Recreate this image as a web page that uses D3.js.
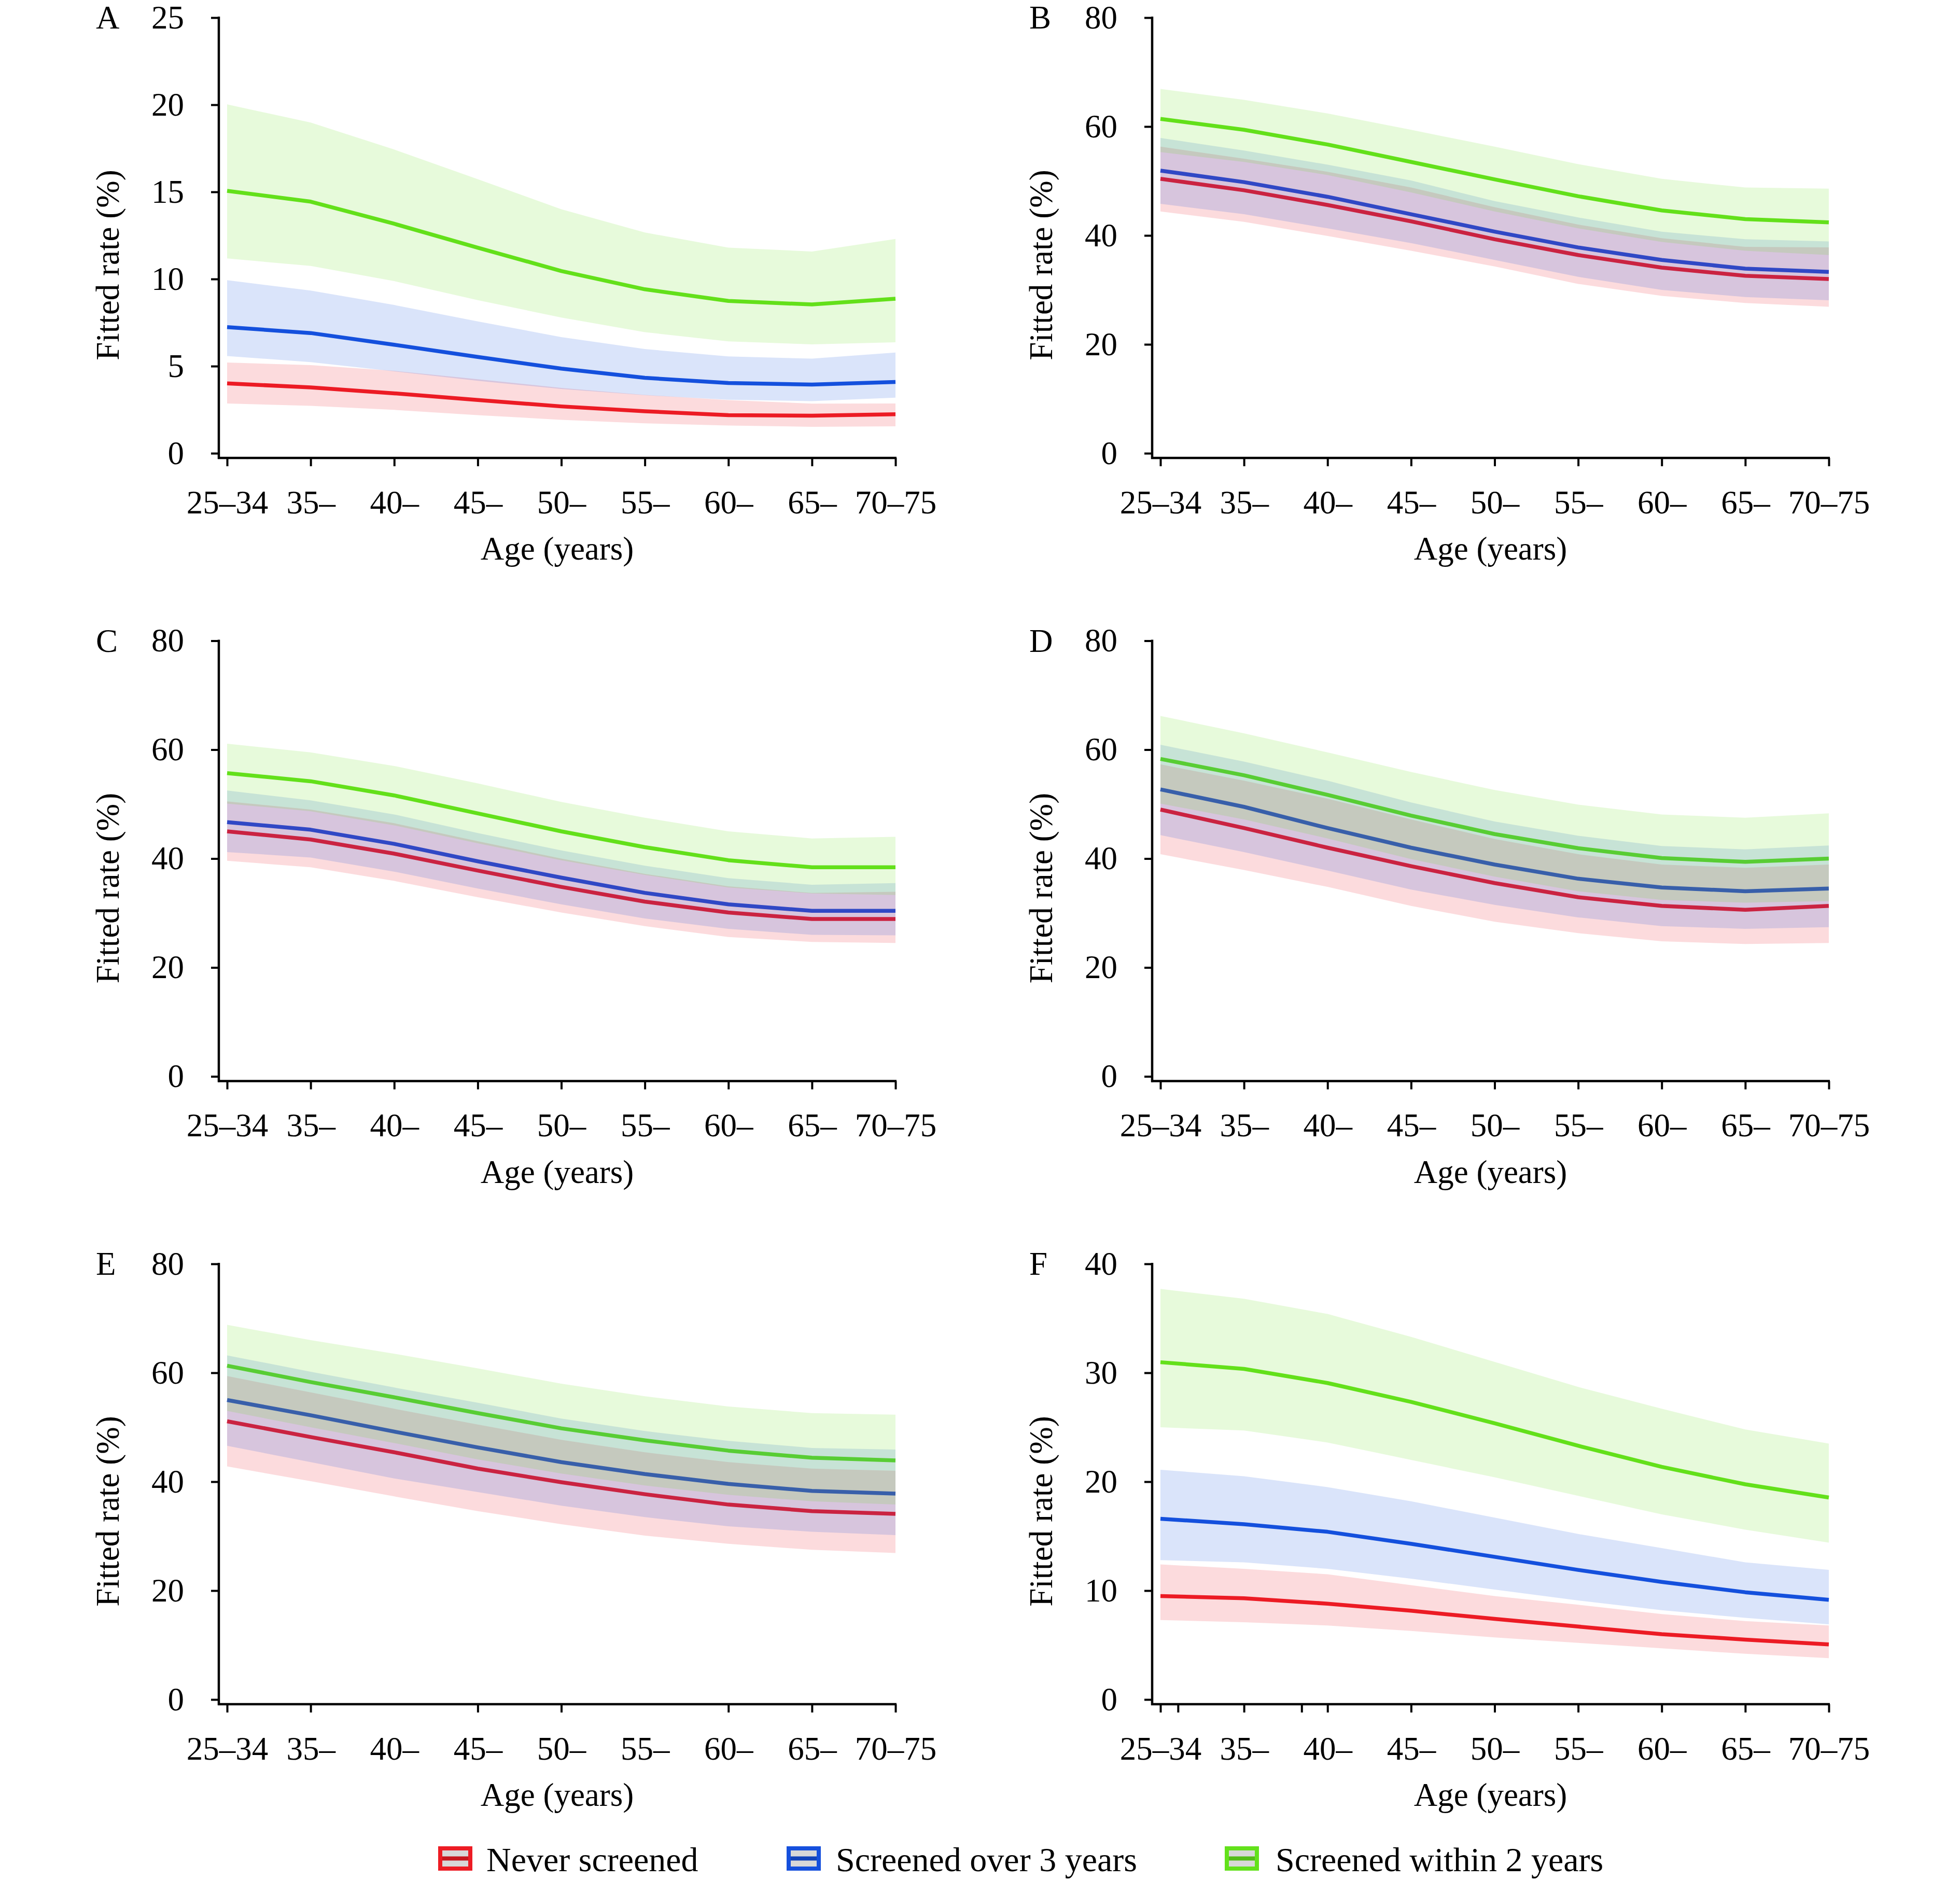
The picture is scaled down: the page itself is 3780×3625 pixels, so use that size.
<!DOCTYPE html>
<html><head><meta charset="utf-8">
<script src="https://cdn.jsdelivr.net/npm/d3@7"></script>
<style>html,body{margin:0;padding:0;background:#fff;} svg{display:block}</style>
</head><body>
<svg id="chart" width="3780" height="3625"></svg>
<script>
// ---------- categories & labels ----------
const ageLabels = ["25–34","35–","40–","45–","50–","55–","60–","65–","70–75"];
const seriesNames = ["Never screened","Screened over 3 years","Screened within 2 years"];
const seriesColors = ["#ED1C24","#1550DD","#63E11B"];
const panelLetters = ["A","B","C","D","E","F"];
const yTicksA = [0,5,10,15,20,25];
const yTicks80 = [0,20,40,60,80];
const yTicksF = [0,10,20,30,40];
const xTicksStd = [0,1,2,3,4,5,6,7,8];
const xTicksE = [0,1,3,4,6,7,8];
const xTicksF = [0,0.21,1,1.69,2,3,4,5,6,7,8];

// ---------- Panel A ----------
const A_neverFit = [4.01,3.78,3.44,3.06,2.69,2.41,2.19,2.16,2.24];
const A_neverLo  = [2.86,2.72,2.49,2.19,1.92,1.72,1.59,1.52,1.55];
const A_neverHi  = [5.21,5.06,4.73,4.25,3.75,3.35,3.05,2.85,2.86];
const A_overFit  = [7.24,6.90,6.23,5.53,4.86,4.33,4.03,3.94,4.09];
const A_overLo   = [5.58,5.23,4.70,4.16,3.69,3.33,3.07,2.99,3.19];
const A_overHi   = [9.93,9.34,8.51,7.57,6.67,5.98,5.56,5.43,5.78];
const A_withinFit= [15.06,14.44,13.17,11.80,10.46,9.41,8.74,8.54,8.87];
const A_withinLo = [11.18,10.75,9.88,8.79,7.79,6.95,6.42,6.25,6.37];
const A_withinHi = [20.02,18.98,17.43,15.73,14.00,12.67,11.80,11.58,12.30];

// ---------- Panel B ----------
const B_neverFit = [50.4,48.3,45.6,42.6,39.3,36.4,34.1,32.6,32.0];
const B_neverLo  = [44.4,42.5,39.9,37.2,34.3,31.1,28.9,27.6,26.9];
const B_neverHi  = [56.3,54.1,51.7,48.8,45.2,42.0,39.5,37.9,37.8];
const B_overFit  = [51.9,49.8,47.1,43.9,40.7,37.8,35.5,33.9,33.3];
const B_overLo   = [45.8,43.9,41.3,38.6,35.5,32.4,30.0,28.7,28.1];
const B_overHi   = [57.9,55.6,53.0,50.1,46.3,43.3,40.7,39.3,38.9];
const B_withinFit= [61.4,59.4,56.7,53.5,50.3,47.2,44.6,43.0,42.4];
const B_withinLo = [55.3,53.5,51.1,47.9,44.4,41.3,38.8,37.2,36.4];
const B_withinHi = [66.9,64.9,62.4,59.4,56.3,53.1,50.4,48.8,48.6];

// ---------- Panel C ----------
const C_neverFit = [45.0,43.5,40.9,37.8,34.8,32.1,30.1,28.9,28.9];
const C_neverLo  = [39.6,38.4,35.9,32.9,30.1,27.6,25.6,24.7,24.5];
const C_neverHi  = [50.5,49.0,46.5,43.2,40.0,37.2,34.9,33.7,33.9];
const C_overFit  = [46.7,45.3,42.7,39.5,36.5,33.7,31.6,30.4,30.4];
const C_overLo   = [41.2,40.2,37.6,34.5,31.6,29.0,27.1,26.0,25.9];
const C_overHi   = [52.5,50.7,48.1,44.7,41.5,38.7,36.4,35.2,35.5];
const C_withinFit= [55.7,54.2,51.6,48.3,45.0,42.1,39.7,38.4,38.4];
const C_withinLo = [50.1,48.7,46.1,42.8,39.7,37.0,34.7,33.6,33.3];
const C_withinHi = [61.1,59.5,57.0,53.8,50.4,47.5,45.0,43.7,44.0];

// ---------- Panel D ----------
const D_neverFit = [49.0,45.6,42.0,38.6,35.5,32.9,31.3,30.6,31.3];
const D_neverLo  = [40.8,37.9,34.8,31.3,28.4,26.3,24.8,24.3,24.5];
const D_neverHi  = [57.3,54.3,51.0,47.2,43.6,40.8,38.9,38.3,38.9];
const D_overFit  = [52.7,49.5,45.6,42.0,38.9,36.3,34.7,34.0,34.5];
const D_overLo   = [44.3,41.2,37.8,34.3,31.5,29.2,27.6,27.1,27.4];
const D_overHi   = [60.9,57.8,54.3,50.3,46.8,44.2,42.3,41.7,42.4];
const D_withinFit= [58.3,55.3,51.7,47.9,44.5,41.9,40.1,39.4,40.0];
const D_withinLo = [50.1,47.2,43.7,39.9,36.7,34.0,32.4,31.9,32.2];
const D_withinHi = [66.2,63.0,59.5,55.9,52.6,49.9,48.1,47.5,48.3];

// ---------- Panel E ----------
const E_neverFit = [51.1,48.2,45.4,42.4,39.9,37.7,35.8,34.6,34.1];
const E_neverLo  = [42.8,40.1,37.3,34.6,32.2,30.1,28.6,27.5,26.9];
const E_neverHi  = [59.4,56.4,53.4,50.5,47.7,45.4,43.6,42.4,42.0];
const E_overFit  = [55.0,52.2,49.2,46.3,43.6,41.4,39.6,38.3,37.8];
const E_overLo   = [46.6,43.6,40.6,38.1,35.6,33.5,31.8,30.8,30.2];
const E_overHi   = [63.2,60.2,57.3,54.5,51.6,49.3,47.5,46.2,45.9];
const E_withinFit= [61.3,58.3,55.5,52.6,49.8,47.6,45.7,44.4,43.9];
const E_withinLo = [53.0,50.0,47.1,44.1,41.5,39.3,37.6,36.4,35.8];
const E_withinHi = [68.8,66.0,63.5,60.8,58.0,55.7,53.8,52.6,52.3];

// ---------- Panel F ----------
const F_neverFit = [9.5,9.3,8.8,8.15,7.4,6.7,6.0,5.5,5.06];
const F_neverLo  = [7.3,7.1,6.8,6.3,5.7,5.2,4.7,4.2,3.8];
const F_neverHi  = [12.4,12.0,11.5,10.5,9.5,8.7,7.85,7.2,6.8];
const F_overFit  = [16.6,16.1,15.4,14.3,13.1,11.9,10.8,9.85,9.15];
const F_overLo   = [12.8,12.6,12.0,11.1,10.1,9.1,8.2,7.5,6.9];
const F_overHi   = [21.1,20.5,19.5,18.2,16.7,15.2,13.9,12.6,11.9];
const F_withinFit= [30.97,30.36,29.06,27.33,25.36,23.3,21.36,19.76,18.55];
const F_withinLo = [25.0,24.7,23.6,22.0,20.4,18.7,17.0,15.6,14.4];
const F_withinHi = [37.7,36.8,35.4,33.3,31.0,28.7,26.7,24.8,23.5];

// ---------- build panel table ----------
const panels = [
  {letter:"A", yTicks:yTicksA, xTicks:xTicksStd, series:[[A_neverLo,A_neverFit,A_neverHi],[A_overLo,A_overFit,A_overHi],[A_withinLo,A_withinFit,A_withinHi]]},
  {letter:"B", yTicks:yTicks80, xTicks:xTicksStd, series:[[B_neverLo,B_neverFit,B_neverHi],[B_overLo,B_overFit,B_overHi],[B_withinLo,B_withinFit,B_withinHi]]},
  {letter:"C", yTicks:yTicks80, xTicks:xTicksStd, series:[[C_neverLo,C_neverFit,C_neverHi],[C_overLo,C_overFit,C_overHi],[C_withinLo,C_withinFit,C_withinHi]]},
  {letter:"D", yTicks:yTicks80, xTicks:xTicksStd, series:[[D_neverLo,D_neverFit,D_neverHi],[D_overLo,D_overFit,D_overHi],[D_withinLo,D_withinFit,D_withinHi]]},
  {letter:"E", yTicks:yTicks80, xTicks:xTicksE, series:[[E_neverLo,E_neverFit,E_neverHi],[E_overLo,E_overFit,E_overHi],[E_withinLo,E_withinFit,E_withinHi]]},
  {letter:"F", yTicks:yTicksF, xTicks:xTicksF, series:[[F_neverLo,F_neverFit,F_neverHi],[F_overLo,F_overFit,F_overHi],[F_withinLo,F_withinFit,F_withinHi]]}
];

const FONT = "'Liberation Serif','Times New Roman',Times,serif";
const FS = 63;
const svg = d3.select("#chart");
svg.append("rect").attr("width",3780).attr("height",3625).attr("fill","#fff");

panels.forEach((p, pi) => {
  const col = pi % 2, row = Math.floor(pi / 2);
  const dx = col * 1800, dy = row * 1201.5;
  const yAxisX = 422 + dx, xAxisY = 883 + dy;
  const x = d3.scaleLinear().domain([0, ageLabels.length - 1]).range([438 + dx, 1727 + dx]);
  const yMax = p.yTicks[p.yTicks.length - 1];
  const y = d3.scaleLinear().domain([0, yMax]).range([874 + dy, 34 + dy]);
  const g = svg.append("g");

  // lines first (ribbons overlay them, as in the original)
  const line = d3.line().x((d, i) => x(i)).y(d => y(d));
  p.series.forEach((s, si) => {
    g.append("path").datum(s[1]).attr("d", line)
      .attr("fill", "none").attr("stroke", seriesColors[si])
      .attr("stroke-width", 7.5).attr("stroke-linejoin", "round");
  });
  // ribbons
  p.series.forEach((s, si) => {
    const area = d3.area().x((d, i) => x(i)).y0((d, i) => y(s[0][i])).y1((d, i) => y(s[2][i]));
    g.append("path").datum(s[1]).attr("d", area)
      .attr("fill", seriesColors[si]).attr("fill-opacity", 0.155).attr("stroke", "none");
  });

  // y axis
  const yAx = g.append("g").attr("transform", `translate(${yAxisX},0)`)
    .call(d3.axisLeft(y).tickValues(p.yTicks).tickSize(15).tickPadding(52).tickFormat(d3.format("d")));
  yAx.select(".domain").remove();
  yAx.selectAll(".tick line").attr("stroke", "#000").attr("stroke-width", 4);
  yAx.selectAll(".tick text").attr("font-family", FONT).attr("font-size", FS).attr("fill", "#000");
  g.append("line").attr("x1", yAxisX).attr("x2", yAxisX).attr("y1", y(yMax) - 2).attr("y2", xAxisY + 2)
    .attr("stroke", "#000").attr("stroke-width", 4.5);

  // x axis tick marks
  const xAx = g.append("g").attr("transform", `translate(0,${xAxisY})`)
    .call(d3.axisBottom(x).tickValues(p.xTicks).tickSize(16).tickFormat(() => ""));
  xAx.select(".domain").remove();
  xAx.selectAll(".tick line").attr("stroke", "#000").attr("stroke-width", 4);
  // x axis labels
  const xLab = g.append("g").attr("transform", `translate(0,${xAxisY})`)
    .call(d3.axisBottom(x).tickValues(d3.range(ageLabels.length)).tickSize(0).tickPadding(62)
      .tickFormat(i => ageLabels[i]));
  xLab.select(".domain").remove();
  xLab.selectAll(".tick line").remove();
  xLab.selectAll(".tick text").attr("font-family", FONT).attr("font-size", FS).attr("fill", "#000");
  g.append("line").attr("x1", yAxisX - 2).attr("x2", x(8) + 2).attr("y1", xAxisY).attr("y2", xAxisY)
    .attr("stroke", "#000").attr("stroke-width", 4.5);

  // titles
  g.append("text").attr("x", (yAxisX + x(8)) / 2).attr("y", 1079 + dy)
    .attr("text-anchor", "middle").attr("font-family", FONT).attr("font-size", FS).text("Age (years)");
  g.append("text").attr("transform", `translate(${229 + dx},${511 + dy}) rotate(-90)`)
    .attr("text-anchor", "middle").attr("font-family", FONT).attr("font-size", FS).text("Fitted rate (%)");
  g.append("text").attr("x", 185 + dx).attr("y", 55 + dy)
    .attr("font-family", FONT).attr("font-size", FS).text(p.letter);
});

// legend
const legendBoxX = [845, 1517, 2362];
const legendTextX = [938, 1612, 2460];
const lg = svg.append("g");
seriesNames.forEach((name, i) => {
  const bx = legendBoxX[i], by = 3560, bw = 66, bh = 47;
  lg.append("rect").attr("x", bx + 4).attr("y", by + 4).attr("width", bw - 8).attr("height", bh - 8)
    .attr("fill", "#d8d8d8").attr("stroke", seriesColors[i]).attr("stroke-width", 8);
  lg.append("line").attr("x1", bx + 8).attr("x2", bx + bw - 8).attr("y1", by + bh / 2).attr("y2", by + bh / 2)
    .attr("stroke", d3.rgb(seriesColors[i]).darker(0.5)).attr("stroke-width", 8);
  lg.append("text").attr("x", legendTextX[i]).attr("y", 3608)
    .attr("font-family", FONT).attr("font-size", 66).attr("fill", "#000").text(name);
});
</script>
</body></html>
